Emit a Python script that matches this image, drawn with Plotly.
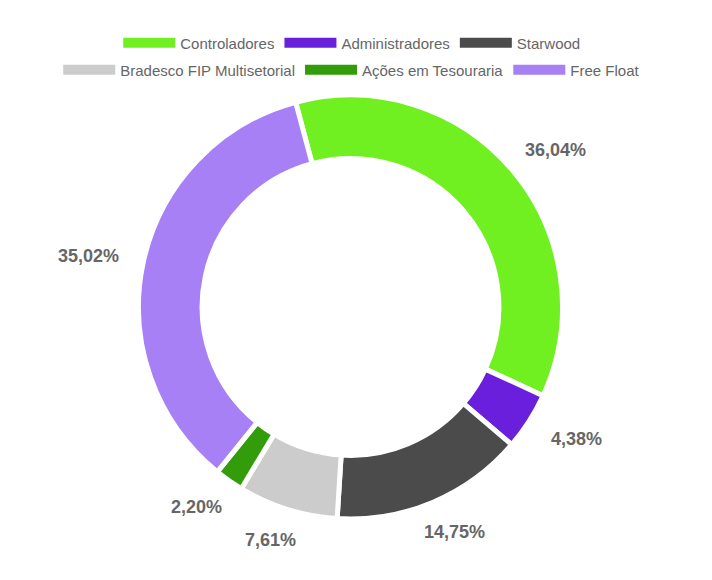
import math
import plotly.graph_objects as go

categories = ["Controladores", "Administradores", "Starwood",
              "Bradesco FIP Multisetorial", "Ações em Tesouraria", "Free Float"]
shares = [36.04, 4.38, 14.75, 7.61, 2.20, 35.02]
colors = ["#70f020", "#6a1fdc", "#4b4b4b", "#cccccc", "#339c0a", "#a880f5"]

W, H = 712, 580
ROT = -15
# pie geometry (px)
CX, CY, R = 350.5, 307.0, 212.0
dom_x = [(CX - R) / W, (CX + R) / W]
dom_y = [1 - (CY + R) / H, 1 - (CY - R) / H]

fig = go.Figure()
fig.add_trace(go.Pie(
    labels=categories, values=shares, sort=False, direction="clockwise",
    rotation=ROT, hole=0.7, textinfo="none", showlegend=False,
    marker=dict(colors=colors, line=dict(color="white", width=5)),
    domain=dict(x=dom_x, y=dom_y),
))

# legend entries (two rows)
for i, (name, col) in enumerate(zip(categories, colors)):
    fig.add_trace(go.Scatter(
        x=[None], y=[None], mode="lines", name=name,
        line=dict(color=col, width=10),
        legend="legend" if i < 3 else "legend2",
    ))

# outside percentage labels
total = sum(shares)
R0, AX, AY = 230.0, 38.0, 14.0
cum = 0.0
for v in shares:
    mid = math.radians(ROT + 360.0 * (cum + v / 2) / total)
    cum += v
    sx, sy = math.sin(mid), math.cos(mid)
    px = CX + sx * (R0 + AX)
    py = CY - sy * (R0 + AY)
    fig.add_annotation(
        x=px / W, y=1 - py / H, xref="paper", yref="paper",
        text=f"{v:.2f}".replace(".", ",") + "%", showarrow=False,
        xanchor="center", yanchor="middle",
        font=dict(family="Liberation Sans, Arial, sans-serif", size=18,
                  color="#666666", weight="bold"),
    )

legend_common = dict(orientation="h", xanchor="center", yanchor="middle",
                     x=0.494, itemwidth=52, bgcolor="rgba(0,0,0,0)",
                     font=dict(family="Liberation Sans, Arial, sans-serif",
                               size=15, color="#666666"))
fig.update_layout(
    width=W, height=H, margin=dict(l=0, r=0, t=0, b=0),
    paper_bgcolor="white", plot_bgcolor="white",
    xaxis=dict(visible=False), yaxis=dict(visible=False),
    legend=dict(y=1 - 43 / H, **legend_common),
    legend2=dict(y=1 - 70 / H, **legend_common),
)

fig.write_html("out.html")
